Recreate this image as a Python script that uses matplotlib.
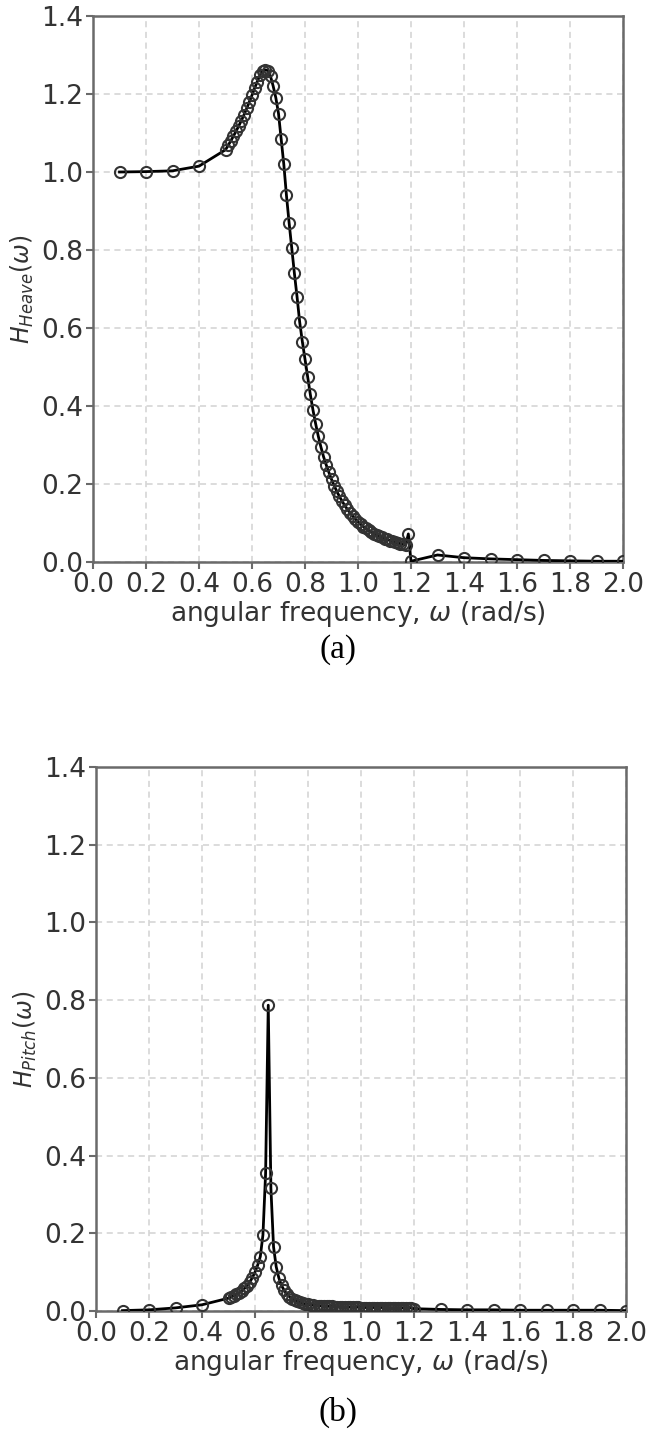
import matplotlib
matplotlib.use("Agg")
import matplotlib.pyplot as plt

# ---------------- data ----------------
omega_low = [0.1, 0.2, 0.3, 0.4]
omega_dense = [0.50, 0.51, 0.52, 0.53, 0.54, 0.55, 0.56, 0.57, 0.58, 0.59,
               0.60, 0.61, 0.62, 0.63, 0.64, 0.65, 0.66, 0.67, 0.68, 0.69,
               0.70, 0.71, 0.72, 0.73, 0.74, 0.75, 0.76, 0.77, 0.78, 0.79,
               0.80, 0.81, 0.82, 0.83, 0.84, 0.85, 0.86, 0.87, 0.88, 0.89,
               0.90, 0.91, 0.92, 0.93, 0.94, 0.95, 0.96, 0.97, 0.98, 0.99,
               1.00, 1.01, 1.02, 1.03, 1.04, 1.05, 1.06, 1.07, 1.08, 1.09,
               1.10, 1.11, 1.12, 1.13, 1.14, 1.15, 1.16, 1.17, 1.18, 1.19]
omega_high = [1.2, 1.3, 1.4, 1.5, 1.6, 1.7, 1.8, 1.9, 2.0]

heave_low = [1.000, 1.001, 1.003, 1.015]
heave_dense = [1.057, 1.068, 1.080, 1.092, 1.105, 1.118, 1.132, 1.147, 1.163, 1.180,
               1.197, 1.215, 1.232, 1.248, 1.258, 1.262, 1.260, 1.245, 1.220, 1.190,
               1.150, 1.085, 1.020, 0.940, 0.870, 0.805, 0.740, 0.680, 0.615, 0.565,
               0.520, 0.475, 0.430, 0.390, 0.355, 0.323, 0.295, 0.270, 0.249, 0.230,
               0.212, 0.196, 0.181, 0.168, 0.156, 0.145, 0.135, 0.126, 0.118, 0.110,
               0.103, 0.097, 0.091, 0.086, 0.081, 0.077, 0.073, 0.069, 0.066, 0.063,
               0.060, 0.058, 0.055, 0.053, 0.051, 0.049, 0.047, 0.045, 0.043, 0.072]
heave_high = [0.002, 0.018, 0.011, 0.008, 0.006, 0.004, 0.003, 0.002, 0.002]

pitch_low = [0.001, 0.003, 0.008, 0.016]
pitch_dense = [0.033, 0.036, 0.039, 0.043, 0.047, 0.052, 0.058, 0.065, 0.074, 0.086,
               0.100, 0.118, 0.140, 0.196, 0.354, 0.787, 0.316, 0.165, 0.114, 0.085,
               0.066, 0.053, 0.044, 0.037, 0.032, 0.028, 0.025, 0.022, 0.020, 0.018,
               0.017, 0.016, 0.015, 0.014, 0.014, 0.013, 0.013, 0.012, 0.012, 0.012,
               0.011, 0.011, 0.011, 0.011, 0.010, 0.010, 0.010, 0.010, 0.010, 0.010,
               0.009, 0.009, 0.009, 0.009, 0.009, 0.009, 0.009, 0.009, 0.009, 0.009,
               0.008, 0.008, 0.008, 0.008, 0.008, 0.008, 0.008, 0.008, 0.008, 0.008]
pitch_high = [0.006, 0.004, 0.003, 0.003, 0.002, 0.002, 0.002, 0.002, 0.001]

xticks = [0.0, 0.2, 0.4, 0.6, 0.8, 1.0, 1.2, 1.4, 1.6, 1.8, 2.0]
yticks = [0.0, 0.2, 0.4, 0.6, 0.8, 1.0, 1.2, 1.4]
xlabel = r"angular frequency, $\omega$ (rad/s)"
ylabels = [r"$H_{Heave}(\omega)$", r"$H_{Pitch}(\omega)$"]
panel_tags = ["(a)", "(b)"]

omega = omega_low + omega_dense + omega_high
series = [heave_low + heave_dense + heave_high,
          pitch_low + pitch_dense + pitch_high]

# ---------------- figure ----------------
W, H = 650, 1437
fig = plt.figure(figsize=(W / 100, H / 100), dpi=100)

boxes = [(93, 16, 623, 562), (96, 767, 626, 1311)]
tag_y = [650, 1412]
fs = 19
spine_c = "#6a6a6a"

for i, (l, t, r, b) in enumerate(boxes):
    ax = fig.add_axes([l / W, 1 - b / H, (r - l) / W, (b - t) / H])
    ax.plot(omega, series[i], color="black", lw=2.0, marker="o",
            markersize=8, markerfacecolor="none", markeredgecolor="#333333",
            markeredgewidth=1.5, zorder=3)
    ax.set_xlim(0, 2.0)
    ax.set_ylim(0, 1.4)
    ax.set_xticks(xticks)
    ax.set_yticks(yticks)
    ax.set_xticklabels([f"{v:.1f}" for v in xticks])
    ax.set_yticklabels([f"{v:.1f}" for v in yticks])
    ax.tick_params(labelsize=fs, colors="#333333", length=5, width=1.5,
                   color=spine_c, pad=2)
    for s in ax.spines.values():
        s.set_color(spine_c)
        s.set_linewidth(1.8)
    ax.grid(True, color="#d2d2d2", linestyle=(0, (4, 3)), linewidth=1.1)
    ax.set_axisbelow(True)
    ax.set_xlabel(xlabel, fontsize=fs, color="#333333", labelpad=1)
    ax.set_ylabel(ylabels[i], fontsize=fs - 2, color="#333333", labelpad=4)
    fig.text(338 / W, 1 - tag_y[i] / H, panel_tags[i], ha="center", va="center",
             fontsize=24, family="Liberation Serif", color="black")

fig.savefig("out.png", dpi=100)
